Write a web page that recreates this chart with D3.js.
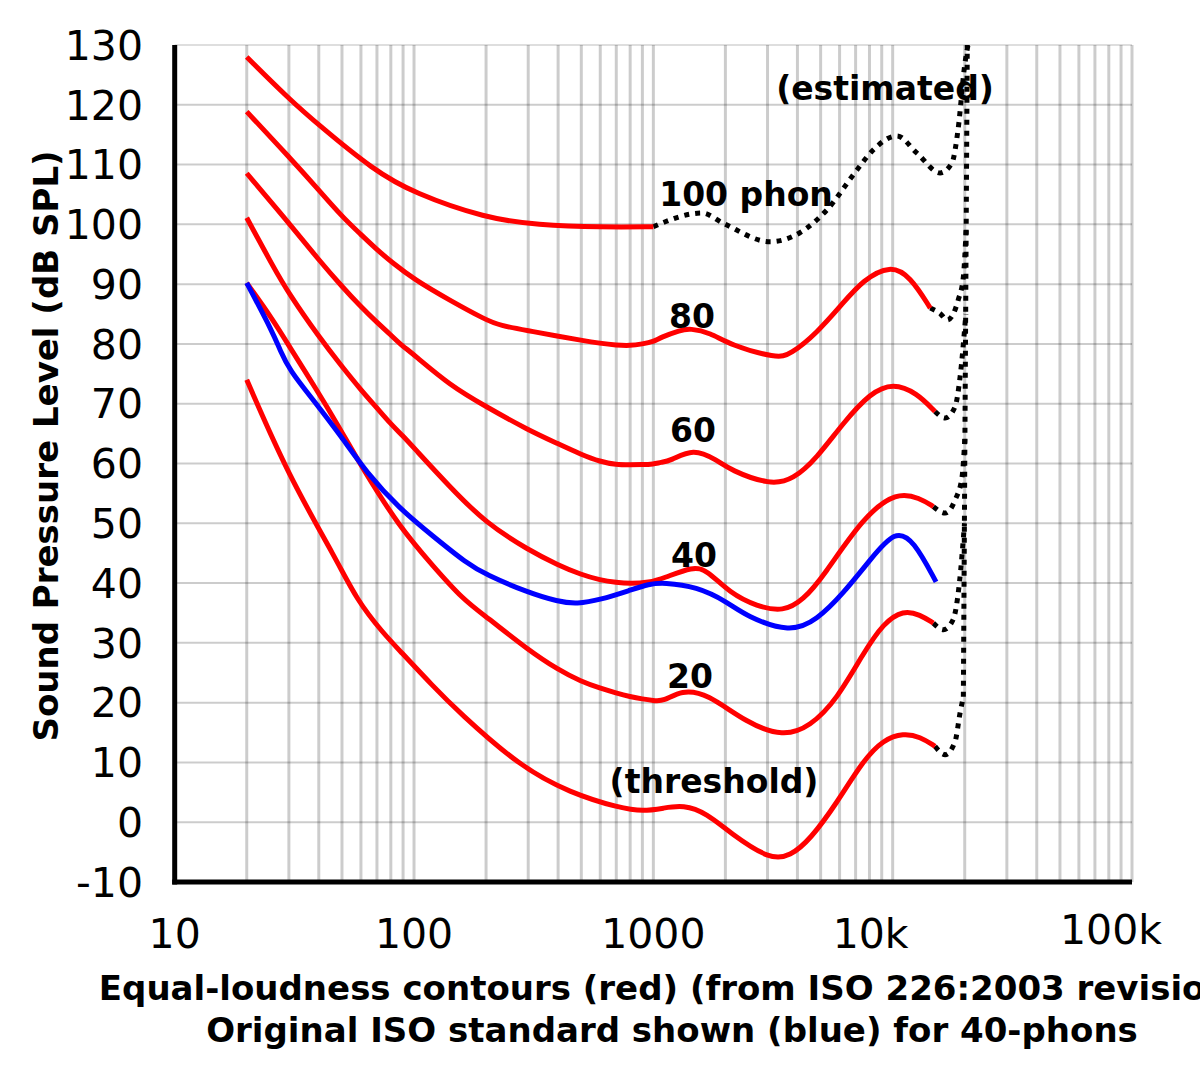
<!DOCTYPE html>
<html>
<head>
<meta charset="utf-8">
<script src="https://cdn.jsdelivr.net/npm/d3@7"></script>
<style>
  html, body { margin: 0; padding: 0; background: #fff; }
  svg { display: block; font-family: "DejaVu Sans", sans-serif; }
</style>
</head>
<body>
<svg id="chart" width="1200" height="1077"></svg>
<script>
// tick values / labels
const xTicks = [10, 100, 1000, 10000, 100000];
const xTickLabels = ['10', '100', '1000', '10k', '100k'];
const yTicks = [-10, 0, 10, 20, 30, 40, 50, 60, 70, 80, 90, 100, 110, 120, 130];

// curves: [frequency Hz, dB SPL]
const phon100 = [[20, 128], [30, 121], [40, 116.6], [67.6, 109.1], [100, 105.2], [200, 101.0], [326, 99.9], [617, 99.5], [1000, 99.6]];
const phon80 = [[20, 118.85], [30, 111.3], [40, 105.75], [50, 101.3], [60, 98.3], [70, 95.75], [80, 93.8], [100, 90.8],
  [141, 87.3], [200, 84.0], [228, 83.1], [300, 82.2], [400, 81.3], [500, 80.6], [600, 80.1], [700, 79.8], [800, 79.7],
  [900, 80.0], [1000, 80.35], [1074, 81.1], [1296, 82.3], [1420, 82.6], [1730, 81.9], [2099, 79.8], [3285, 77.6],
  [3727, 78.2], [4820, 81.8], [6215, 86.9], [7535, 90.7], [9770, 93.2], [11840, 91.3], [14360, 86]];
const phon60 = [[20, 108.55], [30, 100.2], [40, 94.05], [50, 89.6], [60, 86.2], [70, 83.6], [80, 81.5], [86.7, 80.1],
  [100, 78.2], [141, 73.1], [200, 69.5], [300, 65.6], [400, 63.3], [500, 61.5], [600, 60.3], [700, 59.8], [800, 59.8],
  [900, 59.8], [1000, 59.9], [1074, 60.2], [1175, 60.4], [1467, 62.6], [1842, 60.6], [2094, 58.9], [3076, 56.4],
  [3838, 57.3], [4820, 60.9], [6215, 66.8], [8050, 71.8], [10050, 73.5], [12620, 71.8], [15030, 68.7]];
const phon40 = [[20, 101.1], [25.8, 92.9], [30, 88.4], [40, 81.2], [50, 76.2], [60, 72.3], [70, 69.3], [80, 66.6],
  [90, 64.6], [100, 62.6], [141, 56.1], [200, 50.0], [300, 45.55], [400, 43.0], [500, 41.4], [600, 40.5], [700, 40.1],
  [800, 39.9], [960, 40.1], [1102, 40.8], [1470, 42.8], [1671, 42.2], [2094, 38.3], [2706, 36.1], [3494, 35.2],
  [4236, 37.2], [5130, 41.1], [7550, 51.1], [10400, 55.3], [13010, 54.2], [14790, 52.8]];
const phon20 = [[20, 90.2], [25.8, 84.0], [30.2, 79.5], [39.2, 72.3], [47.5, 66.8], [61.3, 59.0], [86.7, 49.45],
  [120.4, 42.8], [160.7, 37.2], [200, 34.4], [300, 28.8], [400, 25.5], [500, 23.5], [600, 22.4], [700, 21.6], [800, 21.0],
  [900, 20.6], [1000, 20.35], [1102, 20.2], [1311, 22.1], [1671, 21.6], [2455, 16.6], [3494, 14.3], [4520, 16.0],
  [5840, 20.5], [7550, 28.3], [9150, 33.3], [11090, 35.5], [13030, 34.7], [14790, 33.3]];
const threshold = [[20, 74], [30, 57.8], [47.5, 43.9], [57.6, 37.2], [74.4, 31.6], [86.7, 28.8], [120.4, 22.7],
  [153, 18.5], [277, 9.3], [449, 4.9], [726, 2.35], [908, 1.8], [1102, 2.35], [1334, 2.9], [1671, 1.5], [2094, -1.8],
  [3076, -6.3], [3727, -5.7], [4520, -2.9], [5840, 3.2], [7550, 10.4], [9150, 13.8], [11090, 14.9], [13030, 14.3], [15030, 12.7]];
// original ISO 40 phon (blue)
const iso40 = [[20, 90.2], [25.8, 81.8], [27.5, 79], [30.2, 75.6], [38, 70.6], [49.7, 64.5], [63.5, 58.4], [86.7, 52.5],
  [120.4, 47.8], [166, 43.3], [200, 41.4], [300, 38.4], [400, 36.9], [479, 36.5], [600, 37.2], [800, 38.8], [960, 39.85],
  [1102, 40.1], [1518, 39.4], [2027, 36.9], [2455, 34.4], [3727, 31.7], [4820, 33.8], [6225, 38.3], [8050, 43.9],
  [10240, 48.9], [12220, 47.2], [15180, 40.2]];
// estimated (dotted) continuations
const est100 = [[1000, 99.6], [1598, 101.9], [1955, 100.2], [3070, 97.1], [4095, 98.6], [5305, 102.4], [7090, 109.1],
  [8270, 112.4], [10420, 114.8], [12640, 111.9], [15780, 108.6], [17700, 110.3], [18750, 115.8], [20050, 127], [20640, 130]];
const est80 = [[14360, 86], [15780, 85.1], [16900, 84], [18800, 87.4], [19740, 91.25], [20320, 100]];
const est60 = [[15030, 68.7], [16560, 67.6], [18230, 69.5], [19130, 74.5], [20220, 85]];
const est40 = [[14790, 52.8], [16560, 51.7], [18230, 53.9], [19500, 57.8], [20080, 65]];
const est20 = [[14790, 33.3], [16300, 32.2], [17900, 33.9], [19000, 40], [19960, 50]];
const estThreshold = [[15030, 12.7], [16560, 11.3], [18230, 13.5], [19130, 18.3], [19740, 21]];
const estEdge = [[19740, 21], [20500, 130]];

const svg = d3.select('#chart');

const x = d3.scaleLog().domain([10, 100000]).range([174.7, 1132]);
const y = d3.scaleLinear().domain([-10, 130]).range([882, 45]);

// grid
const minorFreqs = [];
for (let dec = 10; dec < 100000; dec *= 10) {
  for (let m = 1; m <= 9; m++) {
    if (dec * m > 10) minorFreqs.push(dec * m);
  }
}
minorFreqs.push(100000);

const grid = svg.append('g');
grid.selectAll('line.v')
  .data(minorFreqs)
  .enter().append('line')
  .attr('class', 'v')
  .attr('x1', d => x(d)).attr('x2', d => x(d))
  .attr('y1', y(130)).attr('y2', y(-10))
  .attr('stroke', '#000')
  .attr('stroke-opacity', 0.2)
  .attr('stroke-width', 3);

grid.selectAll('line.h')
  .data(yTicks.filter(d => d > -10))
  .enter().append('line')
  .attr('class', 'h')
  .attr('x1', x(10)).attr('x2', x(100000))
  .attr('y1', d => y(d)).attr('y2', d => y(d))
  .attr('stroke', '#000')
  .attr('stroke-opacity', d => d === 130 ? 0.13 : 0.2)
  .attr('stroke-width', 2);

// curves - basis spline smooths out reading noise between the points
const smooth = d3.line()
  .x(d => x(d[0]))
  .y(d => y(d[1]))
  .curve(d3.curveBasis);

const mono = d3.line()
  .x(d => x(d[0]))
  .y(d => y(d[1]))
  .curve(d3.curveMonotoneX);

const dotted = [est100, est80, est60, est40, est20, estThreshold, estEdge];
svg.append('g').selectAll('path')
  .data(dotted)
  .enter().append('path')
  .attr('d', mono)
  .attr('fill', 'none')
  .attr('stroke', '#000')
  .attr('stroke-width', 5)
  .attr('stroke-dasharray', '5,6');

const reds = [phon100, phon80, phon60, phon40, phon20, threshold];
svg.append('g').selectAll('path')
  .data(reds)
  .enter().append('path')
  .attr('d', smooth)
  .attr('fill', 'none')
  .attr('stroke', '#ff0000')
  .attr('stroke-width', 5)
  .attr('stroke-linejoin', 'round');

svg.append('path')
  .datum(iso40)
  .attr('d', smooth)
  .attr('fill', 'none')
  .attr('stroke', '#0000ff')
  .attr('stroke-width', 5)
  .attr('stroke-linejoin', 'round');

// annotations
const notes = [
  { t: '(estimated)', x: 885, y: 100 },
  { t: '100 phon', x: 746, y: 206 },
  { t: '80', x: 692, y: 328 },
  { t: '60', x: 693, y: 442 },
  { t: '40', x: 694, y: 567 },
  { t: '20', x: 690, y: 688 },
  { t: '(threshold)', x: 714, y: 793 }
];
svg.append('g').selectAll('text')
  .data(notes)
  .enter().append('text')
  .attr('x', d => d.x)
  .attr('y', d => d.y)
  .attr('text-anchor', 'middle')
  .attr('font-weight', 'bold')
  .attr('font-size', 33)
  .text(d => d.t);

// axes
svg.append('line')
  .attr('x1', x(10)).attr('x2', x(10))
  .attr('y1', y(130)).attr('y2', y(-10) + 2.5)
  .attr('stroke', '#000').attr('stroke-width', 5);
svg.append('line')
  .attr('x1', x(10) - 2.5).attr('x2', x(100000))
  .attr('y1', y(-10)).attr('y2', y(-10))
  .attr('stroke', '#000').attr('stroke-width', 5);

svg.append('g').selectAll('text')
  .data(yTicks)
  .enter().append('text')
  .attr('x', 143)
  .attr('y', d => y(d))
  .attr('dy', '0.36em')
  .attr('text-anchor', 'end')
  .attr('font-size', 41)
  .text(d => d);

// the right two labels sit a little left of their gridlines in the original
const labelShift = { 10000: [-22, 0], 100000: [-21, -4] };
svg.append('g').selectAll('text')
  .data(xTicks)
  .enter().append('text')
  .attr('x', d => x(d) + (labelShift[d] ? labelShift[d][0] : 0))
  .attr('y', d => 948 + (labelShift[d] ? labelShift[d][1] : 0))
  .attr('text-anchor', 'middle')
  .attr('font-size', 41)
  .text((d, i) => xTickLabels[i]);

svg.append('text')
  .attr('transform', 'translate(58,446) rotate(-90)')
  .attr('text-anchor', 'middle')
  .attr('font-weight', 'bold')
  .attr('font-size', 34)
  .text('Sound Pressure Level (dB SPL)');

const caption = svg.append('text')
  .attr('text-anchor', 'middle')
  .attr('font-weight', 'bold')
  .attr('font-size', 34);
caption.append('tspan').attr('x', 672).attr('y', 1000)
  .text('Equal-loudness contours (red) (from ISO 226:2003 revision)');
caption.append('tspan').attr('x', 672).attr('y', 1042)
  .text('Original ISO standard shown (blue) for 40-phons');
</script>
</body>
</html>
